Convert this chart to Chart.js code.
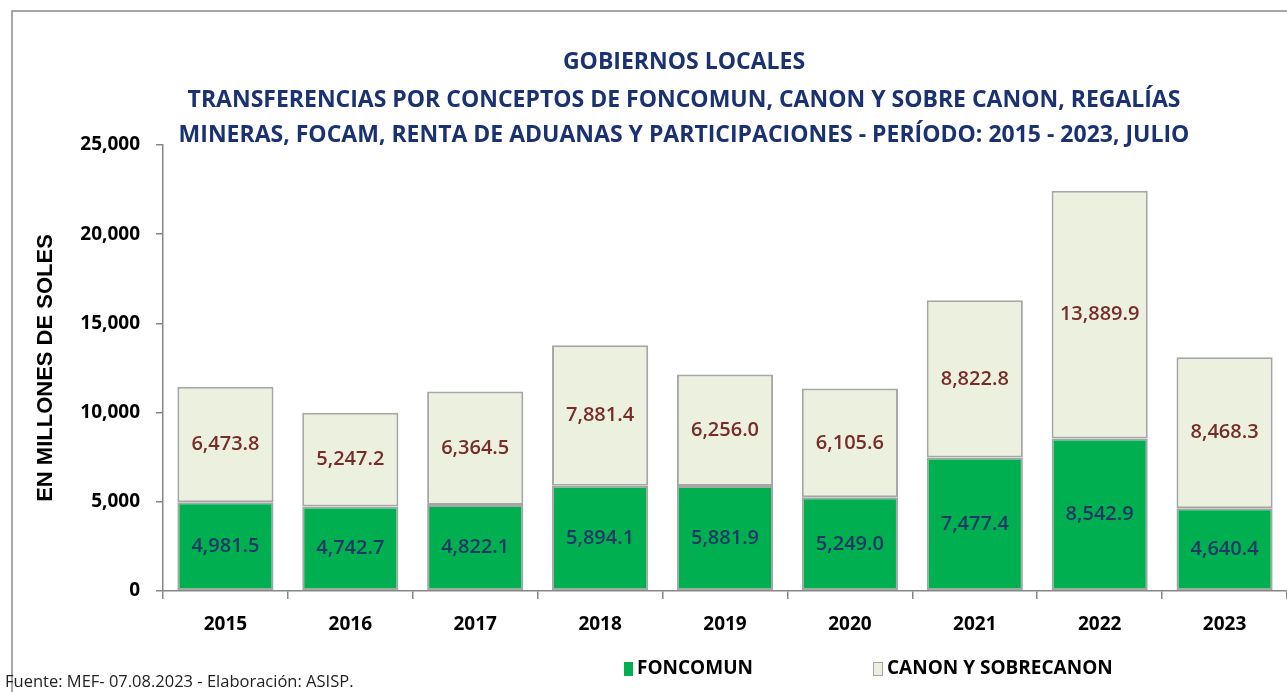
<!DOCTYPE html>
<html lang="es">
<head>
  <meta charset="UTF-8" />
  <title>Gobiernos Locales - Transferencias 2015-2023</title>
  <script src="https://cdn.jsdelivr.net/npm/chart.js"></script>
  <style>
    html, body { margin: 0; padding: 0; background: #fff; }
    #wrap { width: 1287px; height: 692px; position: relative; }
  </style>
</head>
<body>
  <div id="wrap"><canvas id="chart"></canvas></div>

  <script>
    const years = ["2015", "2016", "2017", "2018", "2019", "2020", "2021", "2022", "2023"];
    const foncomun = [4981.5, 4742.7, 4822.1, 5894.1, 5881.9, 5249.0, 7477.4, 8542.9, 4640.4];
    const canon = [6473.8, 5247.2, 6364.5, 7881.4, 6256.0, 6105.6, 8822.8, 13889.9, 8468.3];
    const seriesNames = ["FONCOMUN", "CANON Y SOBRECANON"];
    const yMax = 25000;
    const yStep = 5000;
    const titleLines = [
      "GOBIERNOS LOCALES",
      "TRANSFERENCIAS POR CONCEPTOS DE FONCOMUN, CANON Y SOBRE CANON, REGALÍAS",
      "MINERAS, FOCAM, RENTA DE ADUANAS Y PARTICIPACIONES - PERÍODO: 2015 - 2023, JULIO"
    ];
    const yTitle = "EN MILLONES DE SOLES";
    const footer = "Fuente: MEF- 07.08.2023 - Elaboración: ASISP.";

    const FONT = '"Open Sans", "Noto Sans", sans-serif';
    const NAVY = "#1b3272";
    const GREEN = "#00b050";
    const CREAM = "#ebf1de";
    const EDGE = "#a6a6a6";
    const AXIS = "#868686";

    const fmt = v => v.toLocaleString("en-US", { minimumFractionDigits: 1, maximumFractionDigits: 1 });

    // frame + background
    const framePlugin = {
      id: "frame",
      beforeDraw(chart) {
        const ctx = chart.ctx;
        ctx.save();
        ctx.fillStyle = "#fff";
        ctx.fillRect(0, 0, chart.width, chart.height);
        ctx.strokeStyle = "#8c8c8c";
        ctx.lineWidth = 1.5;
        ctx.beginPath();
        ctx.moveTo(12, chart.height);
        ctx.lineTo(12, 11);
        ctx.lineTo(chart.width, 11);
        ctx.stroke();
        ctx.restore();
      }
    };

    // values inside each segment
    const labelPlugin = {
      id: "segLabels",
      afterDatasetsDraw(chart) {
        const ctx = chart.ctx;
        const colors = ["#1f3864", "#772c2a"];
        ctx.save();
        ctx.font = "600 20px " + FONT;
        ctx.textAlign = "center";
        ctx.textBaseline = "middle";
        chart.data.datasets.forEach((ds, i) => {
          ctx.fillStyle = colors[i];
          chart.getDatasetMeta(i).data.forEach((bar, j) => {
            const y = (bar.y + bar.base) / 2;
            ctx.fillText(fmt(ds.data[j]), bar.x, y);
          });
        });
        ctx.restore();
      }
    };

    // titles, legend, source
    const textPlugin = {
      id: "texts",
      afterDraw(chart) {
        const ctx = chart.ctx;
        ctx.save();
        ctx.textBaseline = "middle";
        ctx.textAlign = "center";
        ctx.fillStyle = NAVY;
        ctx.font = "bold 23px " + FONT;
        const ty = [62, 100, 135];
        titleLines.forEach((t, i) => ctx.fillText(t, 684, ty[i]));

        // legend
        ctx.textAlign = "left";
        ctx.font = "bold 19px " + FONT;
        ctx.fillStyle = GREEN;
        ctx.fillRect(624, 662, 9, 14);
        ctx.fillStyle = "#000";
        ctx.fillText(seriesNames[0], 637, 669);
        ctx.fillStyle = CREAM;
        ctx.fillRect(873, 662, 10, 14);
        ctx.strokeStyle = EDGE;
        ctx.lineWidth = 1;
        ctx.strokeRect(873.5, 662.5, 9, 13);
        ctx.fillStyle = "#000";
        ctx.fillText(seriesNames[1], 887, 669);

        // source
        ctx.font = "16.5px " + FONT;
        ctx.fillStyle = "#222";
        ctx.fillText(footer, 5, 682);
        ctx.restore();
      }
    };

    new Chart(document.getElementById("chart"), {
      type: "bar",
      data: {
        labels: years,
        datasets: [
          {
            label: seriesNames[0], data: foncomun,
            backgroundColor: GREEN, borderColor: EDGE, borderWidth: 2, borderSkipped: false,
            barPercentage: 0.77, categoryPercentage: 1
          },
          {
            label: seriesNames[1], data: canon,
            backgroundColor: CREAM, borderColor: EDGE, borderWidth: 2, borderSkipped: false,
            barPercentage: 0.77, categoryPercentage: 1
          }
        ]
      },
      options: {
        responsive: true,
        maintainAspectRatio: false,
        animation: false,
        layout: { padding: { top: 145, left: 33, right: 0, bottom: 50 } },
        plugins: { legend: { display: false }, tooltip: { enabled: false } },
        scales: {
          x: {
            stacked: true,
            grid: { drawOnChartArea: false, tickLength: 8, color: AXIS, lineWidth: 1.5 },
            border: { color: AXIS, width: 1.5 },
            ticks: { color: "#000", padding: 14, font: { family: FONT, size: 19, weight: "bold" } },
            afterFit: s => { s.height = 51; }
          },
          y: {
            stacked: true,
            min: 0, max: yMax,
            grid: { drawOnChartArea: false, tickLength: 7, color: AXIS, lineWidth: 1.5 },
            border: { color: AXIS, width: 1.5 },
            ticks: {
              stepSize: yStep, color: "#000", padding: 16,
              font: { family: FONT, size: 19, weight: "bold" },
              callback: v => v.toLocaleString("en-US")
            },
            title: {
              display: true, text: yTitle, color: "#000", padding: 0,
              font: { family: '"Liberation Sans", Arial, sans-serif', size: 22, weight: "bold" }
            },
            afterFit: s => { s.width = 130; }
          }
        }
      },
      plugins: [framePlugin, labelPlugin, textPlugin]
    });
  </script>
</body>
</html>
